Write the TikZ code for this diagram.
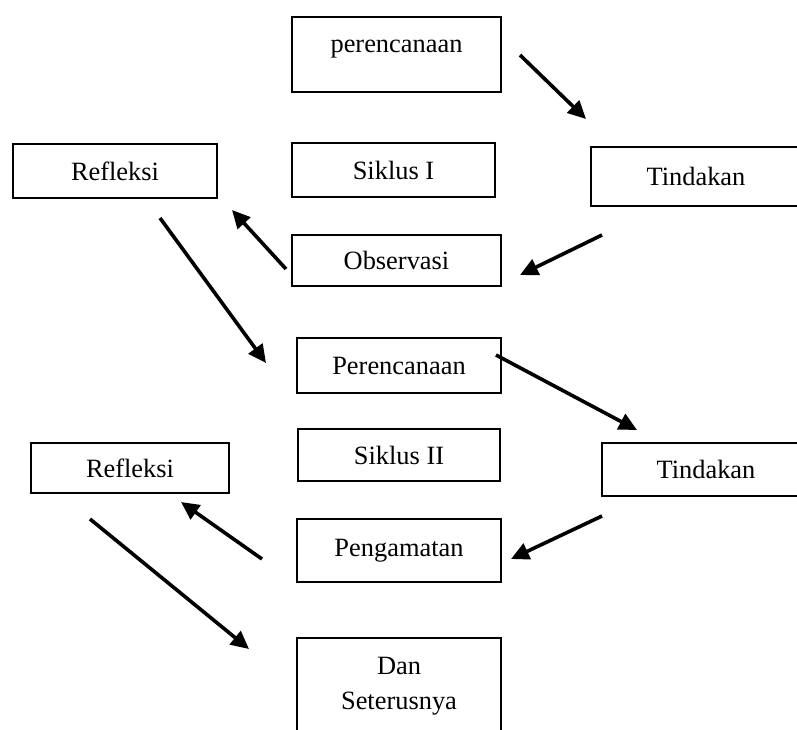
\documentclass[tikz,border=0pt]{standalone}
\usepackage{fontspec}
\setmainfont{Liberation Serif}
\usetikzlibrary{arrows.meta}

\begin{document}
\begin{tikzpicture}[x=0.5pt, y=-0.5pt]
        \tikzstyle{kotak}=[draw, rectangle, line width=1.2pt, inner sep=2pt, align=center, font=\fontsize{13.2}{17.5}\selectfont]
        \tikzstyle{panah}=[line width=1.8pt, -{Triangle[length=9pt,width=8.5pt]}]

% Siklus I lalu Siklus II, dan seterusnya
        \clip (0,0) rectangle (797,729);

        \node[kotak, minimum width=104.5pt, minimum height=37.5pt, text height=9pt, text depth=11.5pt] (per1) at (396.5,54.5) {perencanaan};
        \node[kotak, minimum width=101.5pt, minimum height=27pt] (sik1) at (393.5,170) {Siklus I};
        \node[kotak, minimum width=102pt, minimum height=27pt] (ref1) at (115,171) {Refleksi};
        \node[kotak, minimum width=105pt, minimum height=29.5pt] (tin1) at (696,176.5) {Tindakan};
        \node[kotak, minimum width=104.5pt, minimum height=25.5pt] (obs) at (396.5,260.5) {Observasi};

        \node[kotak, minimum width=102pt, minimum height=27.5pt] (per2) at (399,365.5) {Perencanaan};
        \node[kotak, minimum width=101pt, minimum height=26pt] (sik2) at (399,455) {Siklus II};
        \node[kotak, minimum width=104pt, minimum height=26.5pt] (tin2) at (706,469.5) {Tindakan};
        \node[kotak, minimum width=99pt, minimum height=25pt] (ref2) at (130,468) {Refleksi};
        \node[kotak, minimum width=102pt, minimum height=31.5pt] (peng) at (399,550.5) {Pengamatan};
        \node[kotak, minimum width=102pt, minimum height=48.5pt] (dan) at (399,686.5) {Dan\\Seterusnya};

        \coordinate (a1) at (520,55);   \coordinate (b1) at (586,119);
        \coordinate (a2) at (602,235);  \coordinate (b2) at (520,275);
        \coordinate (a3) at (286,269);  \coordinate (b3) at (232,210);
        \coordinate (a4) at (160,218);  \coordinate (b4) at (266,363);
        \coordinate (a5) at (496,355);  \coordinate (b5) at (637,430);
        \coordinate (a6) at (602,516);  \coordinate (b6) at (511,559);
        \coordinate (a7) at (262,559);  \coordinate (b7) at (181,502);
        \coordinate (a8) at (90,519);   \coordinate (b8) at (249,649);

        \draw[panah] (a1) -- (b1);
        \draw[panah] (a2) -- (b2);
        \draw[panah] (a3) -- (b3);
        \draw[panah] (a4) -- (b4);
        \draw[panah] (a5) -- (b5);
        \draw[panah] (a6) -- (b6);
        \draw[panah] (a7) -- (b7);
        \draw[panah] (a8) -- (b8);

\end{tikzpicture}
\end{document}
